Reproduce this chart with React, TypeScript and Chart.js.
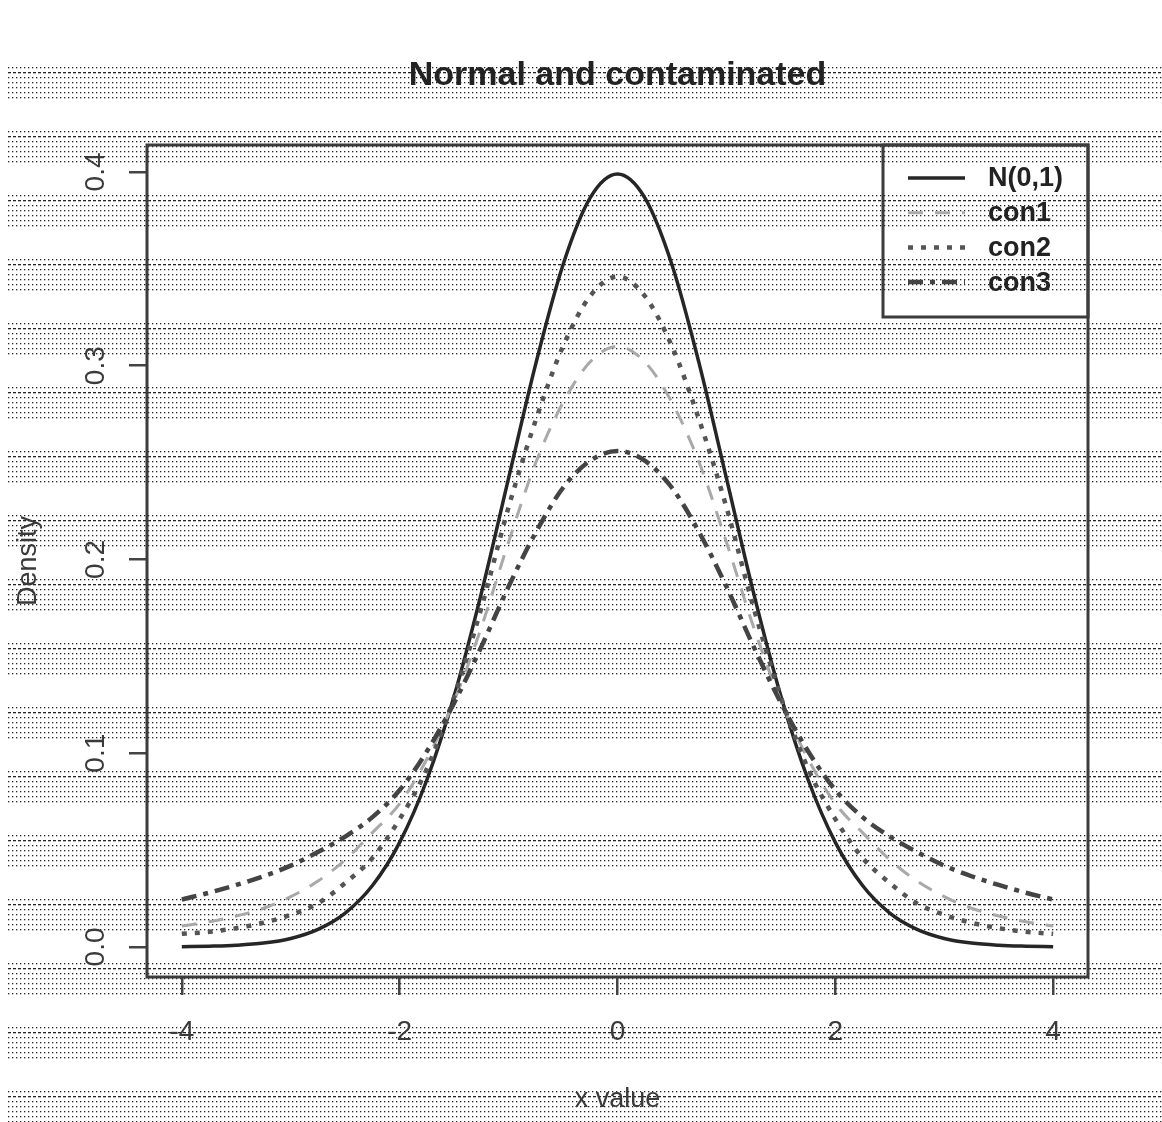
import React, { useEffect, useRef } from "react";
import { Chart, registerables } from "chart.js";

Chart.register(...registerables);

const titleText = "Normal and contaminated";
const xAxisTitle = "x value";
const yAxisTitle = "Density";
const seriesLabels = ["N(0,1)", "con1", "con2", "con3"];

const xValues = [
  -4, -3.75, -3.5, -3.25, -3, -2.75, -2.5, -2.25, -2, -1.75, -1.5, -1.25, -1, -0.75, -0.5, -0.25,
  0, 0.25, 0.5, 0.75, 1, 1.25, 1.5, 1.75, 2, 2.25, 2.5, 2.75, 3, 3.25, 3.5, 3.75, 4,
];

const normalValues = [
  0.0001, 0.0004, 0.0009, 0.002, 0.0044, 0.0091, 0.0175, 0.0317, 0.054, 0.0863, 0.1295, 0.1826, 0.242, 0.3011, 0.3521, 0.3867,
  0.3989, 0.3867, 0.3521, 0.3011, 0.242, 0.1826, 0.1295, 0.0863, 0.054, 0.0317, 0.0175, 0.0091, 0.0044, 0.002, 0.0009, 0.0004, 0.0001,
];

const con1Values = [
  0.0108, 0.013, 0.016, 0.02, 0.026, 0.034, 0.045, 0.059, 0.074, 0.097, 0.127, 0.165, 0.209, 0.25, 0.281, 0.302,
  0.31, 0.302, 0.281, 0.25, 0.209, 0.165, 0.127, 0.097, 0.074, 0.059, 0.045, 0.034, 0.026, 0.02, 0.016, 0.013, 0.0108,
];

const con2Values = [
  0.0068, 0.0078, 0.0097, 0.0125, 0.0166, 0.0225, 0.033, 0.046, 0.066, 0.092, 0.129, 0.175, 0.227, 0.272, 0.31, 0.336,
  0.346, 0.336, 0.31, 0.272, 0.227, 0.175, 0.129, 0.092, 0.066, 0.046, 0.033, 0.0225, 0.0166, 0.0125, 0.0097, 0.0078, 0.0068,
];

const con3Values = [
  0.0245, 0.028, 0.032, 0.0365, 0.042, 0.049, 0.057, 0.067, 0.081, 0.101, 0.126, 0.155, 0.186, 0.214, 0.237, 0.251,
  0.256, 0.251, 0.237, 0.214, 0.186, 0.155, 0.126, 0.101, 0.081, 0.067, 0.057, 0.049, 0.042, 0.0365, 0.032, 0.028, 0.0245,
];

const xTickValues = [-4, -2, 0, 2, 4];
const yTickValues = [0, 0.1, 0.2, 0.3, 0.4];

const FONT = "'Liberation Sans', Arial, Helvetica, sans-serif";
const W = 1162;
const H = 1122;

const toPoints = (ys: number[]) => xValues.map((x, i) => ({ x, y: ys[i] }));

const scanBands = {
  id: "scanBands",
  beforeDraw(chart: any) {
    const ctx = chart.ctx as CanvasRenderingContext2D;
    ctx.save();
    ctx.fillStyle = "#ffffff";
    ctx.fillRect(0, 0, chart.width, chart.height);
    ctx.fillStyle = "#222222";
    for (let b = 72; b < chart.height + 6; b += 64) {
      for (const off of [-5, 5, 10, 15, 20, 25]) {
        const y = b + off;
        if (y >= chart.height) continue;
        for (let x = 8; x < chart.width; x += 4) ctx.fillRect(x, y, 1.3, 1.3);
      }
      if (b < chart.height) {
        for (let x = 8; x < chart.width; x += 5) ctx.fillRect(x, b, 3, 1.3);
      }
    }
    ctx.restore();
  },
};

const frameLegendTitle = {
  id: "frameLegendTitle",
  afterDraw(chart: any) {
    const ctx = chart.ctx as CanvasRenderingContext2D;
    const a = chart.chartArea;
    ctx.save();
    ctx.strokeStyle = "#3c3c3c";
    ctx.lineWidth = 3;
    ctx.setLineDash([]);
    ctx.strokeRect(a.left, a.top, a.right - a.left, a.bottom - a.top);

    ctx.fillStyle = "#222222";
    ctx.font = `bold 34px ${FONT}`;
    ctx.textAlign = "center";
    ctx.textBaseline = "middle";
    ctx.fillText(titleText, (a.left + a.right) / 2, 76);

    const boxW = 205;
    const boxH = 172;
    ctx.strokeRect(a.right - boxW, a.top, boxW, boxH);
    ctx.font = `bold 27px ${FONT}`;
    ctx.textAlign = "left";
    chart.data.datasets.forEach((ds: any, i: number) => {
      const y = a.top + 33 + i * 34.7;
      ctx.save();
      ctx.strokeStyle = ds.borderColor;
      ctx.lineWidth = ds.borderWidth;
      ctx.setLineDash(ds.borderDash || []);
      ctx.beginPath();
      ctx.moveTo(a.right - 180, y);
      ctx.lineTo(a.right - 123, y);
      ctx.stroke();
      ctx.restore();
      ctx.fillStyle = "#222222";
      ctx.fillText(ds.label, a.right - 100, y + 1);
    });
    ctx.restore();
  },
};

export default function App() {
  const canvasRef = useRef<HTMLCanvasElement | null>(null);

  useEffect(() => {
    if (!canvasRef.current) return;
    const chart = new Chart(canvasRef.current, {
      type: "line",
      data: {
        datasets: [
          {
            label: seriesLabels[0],
            data: toPoints(normalValues),
            borderColor: "#262626",
            borderWidth: 3.5,
            borderDash: [],
            order: 4,
          },
          {
            label: seriesLabels[1],
            data: toPoints(con1Values),
            borderColor: "#a9a9a9",
            borderWidth: 3,
            borderDash: [15, 12],
            order: 3,
          },
          {
            label: seriesLabels[2],
            data: toPoints(con2Values),
            borderColor: "#555555",
            borderWidth: 4.5,
            borderDash: [5, 8],
            order: 2,
          },
          {
            label: seriesLabels[3],
            data: toPoints(con3Values),
            borderColor: "#444444",
            borderWidth: 4.5,
            borderDash: [15, 7, 5, 7],
            order: 1,
          },
        ] as any,
      },
      options: {
        responsive: false,
        animation: false,
        devicePixelRatio: 1,
        layout: { padding: { top: 145, right: 74, left: 0, bottom: 0 } },
        elements: {
          point: { radius: 0, hoverRadius: 0 },
          line: { cubicInterpolationMode: "monotone", fill: false, borderCapStyle: "butt" },
        },
        plugins: {
          legend: { display: false },
          tooltip: { enabled: false },
          title: { display: false },
        },
        scales: {
          x: {
            type: "linear",
            min: -4.32,
            max: 4.32,
            afterBuildTicks: (s: any) => {
              s.ticks = xTickValues.map((v) => ({ value: v }));
            },
            afterFit: (s: any) => {
              s.height = 145;
            },
            ticks: {
              autoSkip: false,
              maxRotation: 0,
              minRotation: 0,
              padding: 20,
              color: "#3a3a3a",
              font: { family: FONT, size: 28 },
              callback: (v: any) => String(v),
            },
            grid: {
              drawOnChartArea: false,
              drawTicks: true,
              tickLength: 18,
              color: "#444444",
              lineWidth: 2.5,
            },
            border: { display: false },
            title: {
              display: true,
              text: xAxisTitle,
              color: "#3a3a3a",
              font: { family: FONT, size: 27 },
              padding: { top: 0, bottom: 6 },
            },
          },
          y: {
            type: "linear",
            min: -0.0155,
            max: 0.4139,
            afterBuildTicks: (s: any) => {
              s.ticks = yTickValues.map((v) => ({ value: v }));
            },
            afterFit: (s: any) => {
              s.width = 147;
            },
            ticks: {
              autoSkip: false,
              minRotation: 90,
              maxRotation: 90,
              crossAlign: "center",
              padding: 13,
              color: "#3a3a3a",
              font: { family: FONT, size: 28 },
              callback: (v: any) => Number(v).toFixed(1),
            },
            grid: {
              drawOnChartArea: false,
              drawTicks: true,
              tickLength: 18,
              color: "#444444",
              lineWidth: 2.5,
            },
            border: { display: false },
            title: {
              display: true,
              text: yAxisTitle,
              color: "#3a3a3a",
              font: { family: FONT, size: 27 },
              padding: { top: 12, bottom: 0 },
            },
          },
        },
      } as any,
      plugins: [scanBands, frameLegendTitle],
    });
    return () => chart.destroy();
  }, []);

  return (
    <div style={{ position: "absolute", left: 0, top: 0, width: W, height: H }}>
      <canvas ref={canvasRef} width={W} height={H} style={{ display: "block", width: W, height: H }} />
    </div>
  );
}
